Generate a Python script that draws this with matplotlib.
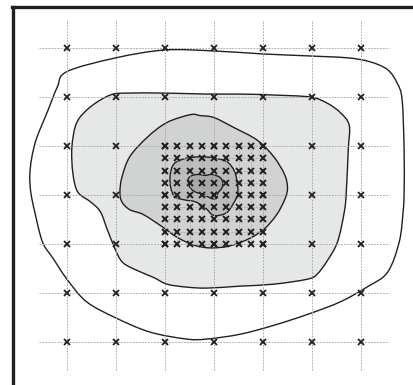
import numpy as np
import matplotlib
matplotlib.use("Agg")
import matplotlib.pyplot as plt
from matplotlib.path import Path
from matplotlib.patches import PathPatch
from matplotlib.lines import Line2D

# sampling stations (metres): coarse survey grid and the refined block
coarse_x = [0, 50, 100, 150, 200, 250, 300]
coarse_y = [0, 50, 100, 150, 200, 250, 300]
fine_x = [100, 112.5, 125, 137.5, 150, 162.5, 175, 187.5, 200]
fine_y = [100, 112.5, 125, 137.5, 150, 162.5, 175, 187.5, 200]

# iso-concentration outlines, lowest level first (x, y in metres)
level1_x = [100, 150, 199, 245, 286, 309, 327, 337, 342, 344, 344, 343, 339, 327, 306, 279,
            245, 211, 177, 143, 122, 85, 51, 20, 0, -14, -25, -33, -37, -38, -36, -31,
            -20, -10, 0, 50]
level1_y = [298, 297, 294, 292, 290, 286, 278, 264, 247, 196, 153, 133, 102, 71, 56, 41,
            28, 17, 8, 3, 3, 10, 24, 41, 64, 85, 102, 133, 153, 170, 188, 208,
            235, 260, 276, 290]
level2_x = [61, 44, 24, 10, 5, 6, 11, 24, 34, 41, 49, 56, 67, 88, 102, 122, 143, 177, 211,
            245, 255, 265, 276, 283, 285, 287, 288, 279, 265, 248, 211, 177, 143, 100]
level2_y = [254, 252, 240, 224, 199, 172, 153, 143, 133, 115, 95, 82, 75, 66, 59, 56, 55,
            57, 59, 64, 69, 82, 102, 133, 153, 196, 221, 234, 244, 250, 252, 253, 253, 254]
level3_x = [126, 102, 82, 64, 56, 54, 56, 64, 78, 98, 112, 129, 146, 166, 187, 202, 214,
            222, 225, 222, 211, 194, 170, 150, 136]
level3_y = [232, 224, 209, 189, 168, 153, 143, 135, 130, 117, 107, 99, 96, 98, 106, 116,
            130, 145, 157, 171, 189, 206, 219, 229, 231]
level4_x = [107, 112, 124, 138, 149, 163, 171, 174, 174, 169, 163, 154, 148, 141, 131,
            120, 110, 106, 105]
level4_y = [178, 184, 188, 189, 188, 184, 174, 160, 150, 140, 132, 129, 130, 137, 143,
            145, 148, 157, 167]
level5_x = [124, 128, 134, 141, 148, 156, 159, 158, 154, 153, 149, 144, 138, 131, 126, 124]
level5_y = [167, 170, 171, 170, 171, 168, 163, 157, 152, 147, 146, 148, 151, 153, 157, 162]

levels = [(level1_x, level1_y), (level2_x, level2_y), (level3_x, level3_y),
          (level4_x, level4_y), (level5_x, level5_y)]
fills = ["#ffffff", "#e6e7e7", "#d1d2d2", "#bcbdbd", "#a7a8a8"]
INK = "#231f20"


def smooth_closed_path(xs, ys):
    """Closed Catmull-Rom outline through the vertices, as cubic Bezier segments."""
    p = np.column_stack([xs, ys]).astype(float)
    n = len(p)
    verts = [p[0]]
    codes = [Path.MOVETO]
    for i in range(n):
        p0, p1, p2, p3 = p[i - 1], p[i], p[(i + 1) % n], p[(i + 2) % n]
        verts += [p1 + (p2 - p0) / 6.0, p2 - (p3 - p1) / 6.0, p2]
        codes += [Path.CURVE4] * 3
    verts.append(p[0])
    codes.append(Path.CLOSEPOLY)
    return Path(verts, codes)


fig = plt.figure(figsize=(4.14, 3.85), dpi=100)
ax = fig.add_axes([0, 0, 1, 1])
ax.set_xlim(-68.4, 354.1)
ax.set_ylim(-43.9, 349.0)
ax.set_axis_off()

for (xs, ys), fc in zip(levels, fills):
    ax.add_patch(PathPatch(smooth_closed_path(xs, ys), facecolor=fc, edgecolor=INK,
                           linewidth=1.0, zorder=1))

grid_kw = dict(color="#ababab", linewidth=0.7, linestyle=(0, (1.8, 1.3)), zorder=2)
ext = 28.6
for x in coarse_x:
    ax.plot([x, x], [coarse_y[0] - ext, coarse_y[-1] + ext], **grid_kw)
for y in coarse_y:
    ax.plot([coarse_x[0] - ext, coarse_x[-1] + ext], [y, y], **grid_kw)
for x in fine_x:
    ax.plot([x, x], [fine_y[0], fine_y[-1]], **grid_kw)
for y in fine_y:
    ax.plot([fine_x[0], fine_x[-1]], [y, y], **grid_kw)

cx, cy = np.meshgrid(coarse_x, coarse_y)
ax.plot(cx.ravel(), cy.ravel(), linestyle="none", marker="x", markersize=4.0,
        markeredgewidth=1.3, color=INK, zorder=3)
fx, fy = np.meshgrid(fine_x, fine_y)
ax.plot(fx.ravel(), fy.ravel(), linestyle="none", marker="x", markersize=4.2,
        markeredgewidth=1.4, color=INK, zorder=3)

# frame: left and top rules
fig.add_artist(Line2D([13.5 / 414, 13.5 / 414], [0, 1 - 6.5 / 385],
                      transform=fig.transFigure, color=INK, linewidth=2.4))
fig.add_artist(Line2D([13.5 / 414 - 0.003, 1], [1 - 6.5 / 385, 1 - 6.5 / 385],
                      transform=fig.transFigure, color=INK, linewidth=2.4))

fig.savefig("out.png", dpi=100, facecolor="white")
